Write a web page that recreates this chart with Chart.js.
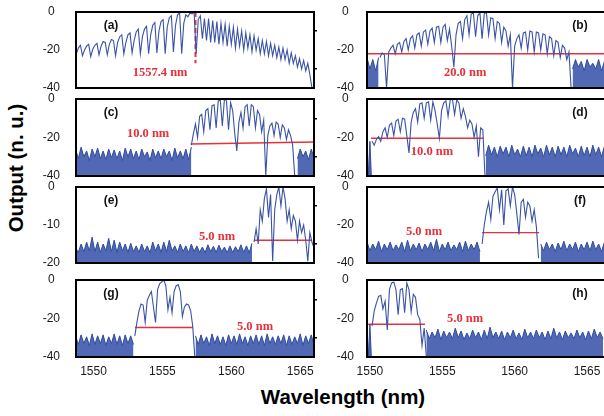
<!DOCTYPE html>
<html>
<head>
<meta charset="utf-8">
<script src="https://cdn.jsdelivr.net/npm/chart.js@4.4.1/dist/chart.umd.min.js"></script>
<style>
  html, body { margin: 0; padding: 0; background: #fff; overflow: hidden; }
  #figure { position: relative; width: 604px; height: 416px; overflow: hidden; background: #fff; }
  #figure canvas { position: absolute; }
  .axis-title {
    position: absolute; font: bold 20.5px "Liberation Sans", Arial, sans-serif;
    color: #000; white-space: nowrap; line-height: 1; transform: translate(-50%, -50%);
  }
  #ytitle { left: 16px; top: 168px; transform: translate(-50%, -50%) rotate(-90deg); }
  #xtitle { left: 343px; top: 397px; }
</style>
</head>
<body>
<div id="figure">
  <div id="ytitle" class="axis-title">Output (n. u.)</div>
  <div id="xtitle" class="axis-title">Wavelength (nm)</div>
</div>
<script>
// ============================================================================
// Data (wavelength in nm, output in dB)
// ============================================================================

const X_TICKS = [1550, 1555, 1560, 1565];
const Y_TICKS_40 = [0, -20, -40];
const Y_TICKS_20 = [0, -10, -20];
const Y_MINOR_40 = [-10, -30];
const Y_MINOR_20 = [-5, -15];

// (a) full comb, sampled every 0.15 nm from 1548.75 nm
const aSignal = [
  -22, -19, -17.5, -23, -20, -18, -17, -23.5, -19.5, -17.5,
  -16.5, -22.5, -18, -15.5, -16, -22.5, -17, -14.5, -15, -23,
  -16, -13, -12, -22, -16, -12, -11, -21.5, -15, -10.5,
  -9, -22, -13, -9, -7.5, -22, -12, -7, -5.5, -21.5,
  -10, -5, -4, -22, -8, -3, -2, -21, -7, -1.5,
  -0.5, -22, -6, -1.5, -2.5, -0.5, -1, 0, -22, -4,
  -2, -14, -3.5, -15, -3.5, -16, -4.5, -16, -5, -17,
  -6, -16, -6.5, -18, -7.5, -17, -8, -19, -9, -18,
  -10, -20, -11, -19, -12, -21, -12.5, -20, -14, -22,
  -15, -22, -15.5, -23, -16.5, -23, -17.5, -24, -18.5, -25,
  -19, -25, -20, -27, -21.5, -27, -23, -29, -24.5, -30,
  -25.5, -31, -27, -33, -40, -40
];

// (b) 20 nm
const bFloorL = [-24, -30, -25, -31, -24];
const bSignal = [
  -24, -21.5, -22.5, -40, -21, -19, -17.5, -22, -17, -16,
  -21, -15.5, -14, -20, -14, -12.5, -19, -12, -11, -18,
  -10.5, -9.5, -17, -10, -8.5, -16, -8, -7.5, -16, -8,
  -6.5, -15, -9, -18, -29, -12, -6, -5, -14, -4,
  -2, -12, -1, -0.5, -13, -2, -0.5, -14, -1, -0.3,
  -12, -3, -3.5, -14, -5, -6, -16, -8, -10, -18,
  -12, -40, -18, -14, -12, -19, -11, -10.5, -20, -10,
  -10.5, -21, -10.5, -11, -20, -11.5, -12, -22, -13, -14,
  -23, -15, -16, -24, -17.5, -19, -25, -21, -40
];
const bFloorR = [-30, -25, -29, -26, -31, -25, -29, -27, -30, -25, -31, -26];

// (c) 10 nm, right side
const cFloorL = [
  -26, -31, -25, -30, -27, -32, -26, -30, -25.5, -31,
  -27, -31.5, -26, -30.5, -26.5, -31, -27, -32, -25.5, -30,
  -26, -31, -27, -31.5, -26, -30, -27.5, -32, -26, -30.5,
  -27, -31, -26, -30, -27, -32, -25.5, -30.5, -27, -31,
  -26, -31.5, -25
];
const cSignal = [
  -24, -18, -13, -20, -9, -8, -17, -6, -5, -16,
  -3.5, -3, -15, -1, -0.5, -14, 0, -1, -16, -2,
  -6, -18, -27, -12, -7, -15, -4, -3, -14, -3,
  -4, -15, -6, -8, -17, -11, -40, -19, -14, -12.5,
  -19, -12, -13, -20, -13.5, -15, -21, -16, -19, -24,
  -40
];
const cFloorR = [-31, -26, -30, -27, -31.5, -26, -30.5];

// (d) 10 nm, left side
const dFloorL = [-23, -40, -22, -40];
const dSignal = [
  -22, -24, -21, -19.5, -22, -17, -15, -20, -13.5, -12.5,
  -19, -11.5, -10.5, -17, -10, -10.5, -19, -28, -12, -7,
  -5, -12, -2.5, -2, -10, -2, -1.5, -11, -1.5, -6,
  -13, -20.5, -6, -2, -1, -9, -0.5, 0, -8, -0.5,
  -2, -10, -5, -9, -15, -11, -13, -20, -14, -30,
  -15, -16, -40
];
const dFloorR = [
  -29.5, -24, -29, -25, -30, -24.5, -28.5, -25, -30, -24,
  -29, -26, -30, -24.5, -29.5, -25, -30, -24, -28.5, -25.5,
  -30, -24, -29, -25, -30, -24.5, -29, -25, -30, -24,
  -28.5, -25.5, -30, -24.5, -29.5, -25, -30, -24, -29, -25,
  -30, -24.5
];

// (e) 5 nm at the long end (axis -20..0)
const eFloor = [
  -16, -17.2, -15, -17, -14.5, -16.8, -13.2, -17, -14.5, -17.2,
  -15, -16.8, -13.5, -17, -14, -17.2, -14.5, -16.8, -15, -17.2,
  -14.8, -17, -15.5, -17.2, -15, -17, -15.5, -17.3, -14.5, -16.8,
  -15, -17.2, -14.5, -17, -14, -16.8, -15.5, -17.2, -15, -17,
  -15.5, -17.3, -15, -17, -15.5, -17.2, -15.8, -17.3, -15.2, -17,
  -15.6, -17.2, -15.3, -17, -15.8, -17.3, -15.5, -17.2, -15.7, -17,
  -15.2, -17.2, -15.5, -17.3, -14.8
];
const eSignal = [
  -14.5, -11, -15, -6, -9, -3, -0.5, -8, -2, -19.5,
  -6, -2, 0, -5, 0, -3, -9, -6, -11, -7.5,
  -9, -14, -9, -12, -10, -14, -19.5, -12, -14.5, -16
];

// (f) 5 nm around 1560 nm
const fFloorL = [
  -29, -33.5, -30, -33, -28.5, -34, -30, -33, -29, -33.5,
  -30.5, -33, -29, -34, -28, -33.5, -30, -33, -29.5, -34,
  -30, -33, -29, -33.5, -27.5, -34, -30, -33, -29, -33.5,
  -30.5, -33, -29, -34, -28.5, -33.5, -30, -33, -29, -34
];
const fSignal = [
  -30, -20, -13, -8, -17, -5, -2.5, -0.5, -12, -1.5,
  -20, -2, -1, -10, 0, -4, -14, -25, -8, -6.5,
  -16, -8, -10, -18, -12, -21, -37.5
];
const fFloorR = [
  -30, -33.5, -29, -33, -30, -34, -29.5, -33, -28.5, -33.5,
  -30, -33, -29, -34, -30, -33, -29, -33.5, -28.5, -33,
  -30, -34, -29
];

// (g) 5 nm around 1555 nm
const gFloorL = [
  -29, -33.5, -28.5, -33, -29.5, -34, -28, -33.5, -29, -33,
  -28.5, -34, -29.5, -33, -28, -33.5, -29, -34, -28.5, -33,
  -29, -33.5
];
const gSignal = [
  -29, -22, -16, -12.5, -13, -22, -10.5, -8, -6, -14,
  -22, -5, -2, -1, 0, -3, -15.5, -9, -17, -6,
  -3, -2.5, -6, -19, -14, -12.5, -13, -16, -24, -40
];
const gFloorR = [
  -29, -33.5, -28.5, -33, -29.5, -34, -28, -33, -29, -33.5,
  -29.5, -34, -28.5, -33, -29, -33.5, -28, -33, -29.5, -34,
  -29, -33, -28.5, -33.5, -29, -34, -28, -33, -29.5, -33.5,
  -29, -33, -28.5, -34, -29, -33.5, -29.5, -33, -28, -34,
  -29, -33, -28.5, -33.5
];

// (h) 5 nm at the short end
const hFloorL = [-24, -40, -23, -40];
const hSignal = [
  -24, -16, -12, -8.5, -8, -15, -11, -26, -5, -1.5,
  -1, -5, -18, -5, -4.5, -17, -1.5, -5, -16.5, -7.5,
  -9, -18, -20.5, -34, -25, -40
];
const hFloorR = [
  -26, -30.5, -27, -30, -25.5, -31, -26.5, -30, -27, -30.5,
  -25, -30, -26.5, -31, -27.5, -30.5, -26, -30, -27, -31,
  -26, -30.5, -24.5, -30, -27, -30.5, -26.5, -31, -27, -30,
  -26, -30.5, -27.5, -31, -25.5, -30, -27, -30.5, -26, -30,
  -27, -31, -26.5, -30.5, -25, -30, -27, -31, -26.5, -30,
  -27.5, -30.5, -26, -30, -27, -31, -26.5, -30.5, -25.5, -30,
  -27, -30.5
];

// red markers [wavelength, dB]
const aMarker = [[1557.4, 0], [1557.4, -27]];
const bMarker = [[1549.8, -22], [1566.3, -22]];
const cMarker = [[1557.05, -23.4], [1566.0, -22.3]];
const dMarker = [[1550.08, -20.4], [1557.82, -20.4]];
const eMarker = [[1561.65, -14], [1565.86, -14]];
const fMarker = [[1557.75, -24], [1561.69, -24]];
const gMarker = [[1553.01, -24.7], [1557.22, -24.7]];
const hMarker = [[1549.88, -23], [1553.81, -23]];

// ============================================================================
// Layout and style
// ============================================================================

const COLS = [
  { left: 76, width: 238, range: [1548.73, 1566.0], labelPad: 16, labelDx: 35 },
  { left: 367, width: 238, range: [1549.8, 1566.24], labelPad: 13, labelDx: -25 }
];
const ROWS = [
  { top: 12, height: 76 },
  { top: 99, height: 77 },
  { top: 187, height: 76 },
  { top: 280, height: 77 }
];
const PAD_L = 44, PAD_T = 8, PAD_R = 8, PAD_B = 8, XLAB_H = 30;

const TRACE = '#3a53a6';
const FLOOR_LINE = '#2f4b9c';
const FLOOR_FILL = 'rgba(62,88,172,0.9)';
const RED = '#e8303a';
const TICK_FONT = { family: '"Liberation Sans", Arial, sans-serif', size: 12 };

function seg(start, step, values) {
  return values.map((v, i) => ({ x: +(start + i * step).toFixed(3), y: v }));
}

function pts(pairs) {
  return pairs.map(([x, y]) => ({ x, y }));
}

const PANELS = [
  { name: '(a)', col: 0, row: 0, yMin: -40, floors: [],
    signals: [seg(1548.75, 0.15, aSignal)], marker: aMarker, dashed: true,
    note: { text: '1557.4 nm', x: 1554.83, y: -32.1 } },
  { name: '(b)', col: 1, row: 0, yMin: -40,
    floors: [seg(1549.8, 0.2, bFloorL), seg(1564.0, 0.2, bFloorR)],
    signals: [seg(1550.7, 0.15, bSignal)], marker: bMarker,
    note: { text: '20.0 nm', x: 1556.58, y: -32.1 } },
  { name: '(c)', col: 0, row: 1, yMin: -40,
    floors: [seg(1548.7, 0.2, cFloorL), seg(1564.8, 0.2, cFloorR)],
    signals: [seg(1557.1, 0.15, cSignal)], marker: cMarker,
    note: { text: '10.0 nm', x: 1553.96, y: -18.2 } },
  { name: '(d)', col: 1, row: 1, yMin: -40,
    floors: [seg(1549.8, 0.1, dFloorL), seg(1558.0, 0.2, dFloorR)],
    signals: [seg(1550.15, 0.15, dSignal)], marker: dMarker,
    note: { text: '10.0 nm', x: 1554.29, y: -27.5 } },
  { name: '(e)', col: 0, row: 2, yMin: -20,
    floors: [seg(1548.7, 0.2, eFloor)],
    signals: [seg(1561.65, 0.15, eSignal)], marker: eMarker,
    note: { text: '5.0 nm', x: 1558.96, y: -13.2 } },
  { name: '(f)', col: 1, row: 2, yMin: -40,
    floors: [seg(1549.8, 0.2, fFloorL), seg(1561.8, 0.2, fFloorR)],
    signals: [seg(1557.75, 0.15, fSignal)], marker: fMarker,
    note: { text: '5.0 nm', x: 1553.74, y: -23.7 } },
  { name: '(g)', col: 0, row: 3, yMin: -40,
    floors: [seg(1548.7, 0.2, gFloorL), seg(1557.4, 0.2, gFloorR)],
    signals: [seg(1553.0, 0.15, gSignal)], marker: gMarker,
    note: { text: '5.0 nm', x: 1561.72, y: -24.3 } },
  { name: '(h)', col: 1, row: 3, yMin: -40,
    floors: [seg(1549.8, 0.1, hFloorL), seg(1553.9, 0.2, hFloorR)],
    signals: [seg(1550.15, 0.15, hSignal)], marker: hMarker,
    note: { text: '5.0 nm', x: 1556.58, y: -20.2 } }
];

// ============================================================================
// Plugins
// ============================================================================

// black frame round the plot area
const framePlugin = {
  id: 'frame',
  afterDraw(chart) {
    const { ctx, chartArea: a } = chart;
    ctx.save();
    ctx.strokeStyle = '#000';
    ctx.lineWidth = 2;
    ctx.strokeRect(a.left, a.top, a.right - a.left, a.bottom - a.top);
    ctx.restore();
  }
};

// panel letter and the red width label
const notesPlugin = {
  id: 'notes',
  afterDraw(chart, args, opts) {
    const { ctx, chartArea: a, scales } = chart;
    ctx.save();
    ctx.textAlign = 'center';
    ctx.textBaseline = 'middle';
    ctx.fillStyle = '#111';
    ctx.font = 'bold 12px "Liberation Sans", Arial, sans-serif';
    const lx = opts.labelDx > 0 ? a.left + opts.labelDx : a.right + opts.labelDx;
    ctx.fillText(opts.name, lx, a.top + 14);
    ctx.fillStyle = RED;
    ctx.font = 'bold 12.5px "Liberation Serif", "Times New Roman", serif';
    ctx.fillText(opts.note.text, scales.x.getPixelForValue(opts.note.x), scales.y.getPixelForValue(opts.note.y));
    ctx.restore();
  }
};

// ============================================================================
// Build charts
// ============================================================================

const fig = document.getElementById('figure');

PANELS.forEach(p => {
  const col = COLS[p.col];
  const row = ROWS[p.row];
  const bottomRow = p.row === ROWS.length - 1;
  const w = PAD_L + col.width + PAD_R;
  const h = PAD_T + row.height + (bottomRow ? XLAB_H : PAD_B);

  const canvas = document.createElement('canvas');
  canvas.width = w;
  canvas.height = h;
  canvas.style.left = (col.left - PAD_L) + 'px';
  canvas.style.top = (row.top - PAD_T) + 'px';
  canvas.style.width = w + 'px';
  canvas.style.height = h + 'px';
  fig.appendChild(canvas);

  const datasets = [];
  p.floors.forEach(d => datasets.push({
    data: d, borderColor: FLOOR_LINE, backgroundColor: FLOOR_FILL, borderWidth: 1, fill: 'start'
  }));
  p.signals.forEach(d => datasets.push({
    data: d, borderColor: TRACE, borderWidth: 1.1, fill: false
  }));
  datasets.push({
    data: pts(p.marker), borderColor: RED, borderWidth: p.dashed ? 2 : 1.4,
    borderDash: p.dashed ? [5, 3] : [], fill: false
  });

  const yTicks = p.yMin === -20 ? Y_TICKS_20 : Y_TICKS_40;
  const yMinor = p.yMin === -20 ? Y_MINOR_20 : Y_MINOR_40;

  new Chart(canvas, {
    type: 'line',
    data: { datasets },
    options: {
      responsive: false,
      animation: false,
      devicePixelRatio: 1,
      layout: { padding: { left: 0, top: PAD_T, right: 0, bottom: 0 } },
      elements: { point: { radius: 0 }, line: { tension: 0 } },
      plugins: {
        legend: { display: false },
        tooltip: { enabled: false },
        notes: { name: p.name, note: p.note, labelDx: col.labelDx }
      },
      scales: {
        x: {
          type: 'linear', min: col.range[0], max: col.range[1],
          afterBuildTicks: s => { s.ticks = X_TICKS.map(v => ({ value: v })); },
          ticks: { display: bottomRow, padding: 0, font: TICK_FONT, color: '#1a1a1a',
                   maxRotation: 0, autoSkip: false, callback: v => String(v) },
          // transparent tick marks only push the labels away from the frame
          grid: { drawOnChartArea: false, drawTicks: true, tickLength: 7, color: 'transparent' },
          border: { display: false },
          afterFit: s => { s.height = bottomRow ? XLAB_H : PAD_B; }
        },
        y: {
          min: p.yMin, max: 0,
          afterBuildTicks: s => { s.ticks = yTicks.map(v => ({ value: v })); },
          ticks: { padding: 0, crossAlign: 'center', font: TICK_FONT,
                   color: '#1a1a1a', callback: v => String(v) },
          grid: { drawOnChartArea: false, drawTicks: true, tickLength: col.labelPad, color: 'transparent' },
          border: { display: false },
          afterFit: s => { s.width = PAD_L; }
        },
        y2: {
          position: 'right', min: p.yMin, max: 0,
          afterBuildTicks: s => { s.ticks = yMinor.map(v => ({ value: v })); },
          ticks: { display: false },
          grid: { drawOnChartArea: false, drawTicks: true, tickLength: 3, color: '#000', lineWidth: 1.5 },
          border: { display: false },
          afterFit: s => { s.width = PAD_R; }
        }
      }
    },
    plugins: [framePlugin, notesPlugin]
  });
});
</script>
</body>
</html>
